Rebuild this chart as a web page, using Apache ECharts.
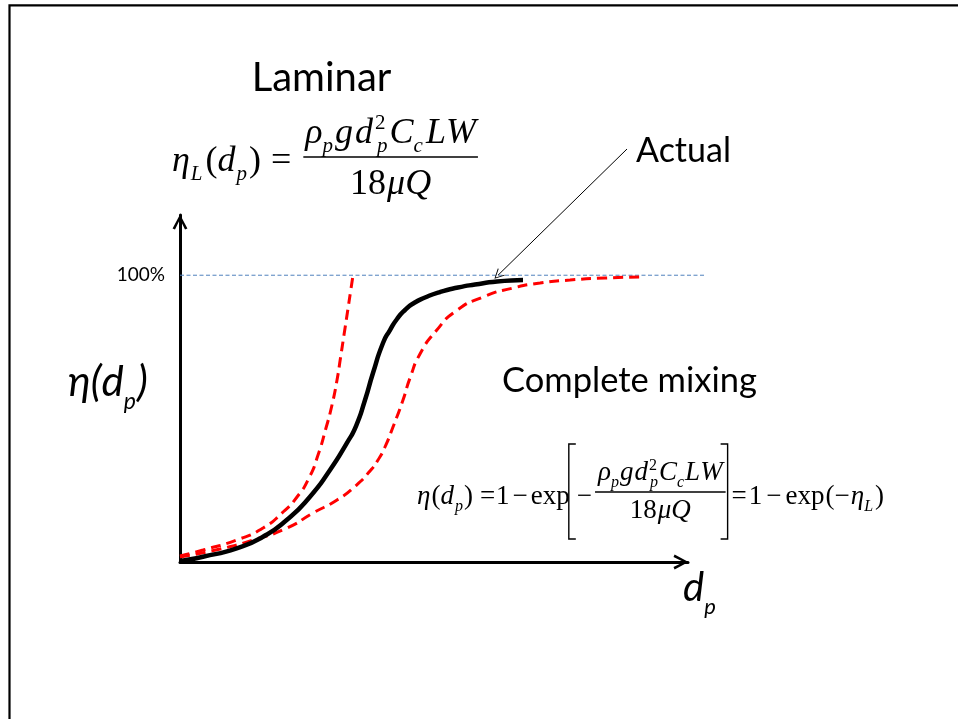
<!DOCTYPE html>
<html><head><meta charset="utf-8">
<script src="https://cdn.jsdelivr.net/npm/echarts@6.0.0/dist/echarts.min.js"></script>
<style>html,body{margin:0;padding:0;background:#fff}#c{width:958px;height:719px}</style>
</head><body><div id="c"></div>
<script>
// ---------- data (x: arbitrary d_p units 0..100, y: efficiency %) ----------
const xMax = 100;
const yMax = 121;
const refXMax = 103.35;
const yTickValue = 100;
const yTickLabel = '100%';
const actualX = [0, 4.53, 11.16, 16.34, 21.0, 25.59, 29.53, 32.81, 34.65, 36.42, 37.99, 39.96, 41.34, 42.72, 44.29, 46.06, 48.23, 51.18, 54.72, 58.07, 62.4, 67.52];
const actualY = [0.35, 1.85, 4.78, 8.82, 14.64, 22.77, 32.08, 41.39, 47.42, 56.49, 65.9, 76.36, 80.89, 84.73, 87.87, 90.31, 92.22, 94.14, 95.71, 96.76, 97.8, 98.33];
const laminarX = [0, 4.53, 11.16, 16.34, 20.28, 23.03, 25.39, 27.17, 28.74, 29.92, 30.91, 31.59, 32.28, 32.97, 33.56, 34.06];
const laminarY = [2.09, 4.18, 7.67, 11.85, 17.43, 22.66, 29.29, 37.31, 46.72, 54.74, 63.46, 71.13, 79.15, 87.17, 94.14, 100];
const mixingX = [0, 7.87, 14.37, 21.06, 26.18, 30.91, 34.65, 37.4, 38.98, 40.35, 41.93, 43.9, 45.28, 47.24, 50.39, 54.33, 59.65, 65.55, 70.87, 76.77, 83.66, 90.55];
const mixingY = [1.74, 4.53, 7.67, 11.85, 17.08, 21.62, 26.67, 31.73, 35.56, 40.1, 47.07, 56.49, 64.16, 72.52, 80.54, 87.52, 92.4, 95.54, 97.28, 98.33, 99.03, 99.37];
const refLineX = [0, refXMax];
const refLineY = [100, 100];
const actualPointer = [62.6, 100];
const titleLaminar = 'Laminar';
const titleActual = 'Actual';
const titleMixing = 'Complete mixing';

// ---------- helpers ----------
const zip = (xs, ys) => xs.map((x, i) => [x, ys[i]]);
const SERIF = '"Liberation Serif", "Times New Roman", serif';
const SANS = 'Lato, "Noto Sans", sans-serif';
const mctx = document.createElement('canvas').getContext('2d');
function fontStr(size, italic, fam) { return (italic ? 'italic' : 'normal') + ' normal ' + size + 'px ' + fam; }
function tw(text, size, italic, fam) { mctx.font = fontStr(size, italic, fam); return mctx.measureText(text).width; }
const G = [];
const MID = 0.33;
function txt(text, x, y, size, italic, fam, align) {
  G.push({
    type: 'text', x: x, y: y, silent: true, z: 100,
    style: {
      text: text, fill: '#000', fontSize: size, fontFamily: fam, fontStyle: italic ? 'italic' : 'normal',
      textAlign: align || 'left', textVerticalAlign: 'middle', align: align || 'left', verticalAlign: 'middle'
    }
  });
}
// token: [text, size, italic, dy, advance, gapBefore]
function runW(tokens, fam) {
  let x = 0;
  for (const t of tokens) { const [text, size, it, dy = 0, adv = true, gap = 0] = t; x += gap; if (adv) x += tw(text, size, it, fam); }
  return x;
}
function run(tokens, x0, base, fam) {
  let x = x0;
  for (const t of tokens) {
    const [text, size, it, dy = 0, adv = true, gap = 0] = t;
    x += gap;
    txt(text, x, base + dy - MID * size, size, it, fam);
    if (adv) x += tw(text, size, it, fam);
  }
  return x;
}
function hline(x1, x2, y, w) {
  G.push({ type: 'line', silent: true, shape: { x1: x1, y1: y, x2: x2, y2: y }, style: { stroke: '#000', lineWidth: w || 1.2 } });
}
function poly(points, w) {
  G.push({ type: 'polyline', silent: true, shape: { points: points }, style: { stroke: '#000', lineWidth: w || 1.3, fill: null } });
}
function fraction(x0, lineY, numTokens, denTokens, numBase, denBase, pad) {
  const nw = runW(numTokens, SERIF), dw = runW(denTokens, SERIF);
  const width = Math.max(nw, dw) + 2 * pad;
  hline(x0, x0 + width, lineY, 1.3);
  run(numTokens, x0 + (width - nw) / 2, numBase, SERIF);
  run(denTokens, x0 + (width - dw) / 2, denBase, SERIF);
  return x0 + width;
}

// slide border
G.push({ type: 'rect', silent: true, shape: { x: 9.5, y: 5.3, width: 1400, height: 1200 }, style: { fill: null, stroke: '#000', lineWidth: 2.2 } });

// titles
txt(titleLaminar, 321.5, 78, 40, false, SANS, 'center');
txt(titleActual, 683.5, 151, 34, false, SANS, 'center');
txt(titleMixing, 629.5, 381, 34.5, false, SANS, 'center');

// axis titles
run([['η(d', 42, true], ['p', 23, true, 13], [')', 42, true, 0, true, 1]], 68, 396, SANS);
run([['d', 40, true], ['p', 22, true, 13]], 683, 601, SANS);

// ---- formula 1 (laminar) ----
(function () {
  const S = 36, s = 21, B = 173;
  let x = run([['η', S, true], ['L', s, true, 8, true, 1], ['(', S, false, 0, true, 3], ['d', S, true], ['p', s, true, 8, true, 1], [')', S, false, 0, true, 2], ['=', S, false, 0, true, 10]], 172, B, SERIF);
  const num = [['ρ', S, true], ['p', s, true, 8], ['g', S, true, 0, true, 2], ['d', S, true, 0, true, 2], ['2', s, false, -15, false, 2], ['p', s, true, 8, true, 2], ['C', S, true, 0, true, 2], ['c', s, true, 8], ['L', S, true, 0, true, 3], ['W', S, true]];
  const den = [['18', S, false], ['μ', S, true, 0, true, 1], ['Q', S, true]];
  fraction(x + 12, 157, num, den, 145, 196, 2);
})();

// ---- formula 2 (complete mixing) ----
(function () {
  const S = 27, s = 16, B = 506;
  let x = run([['η', S, true], ['(', S, false, 0, true, 1], ['d', S, true], ['p', s, true, 6, true, 1], [')', S, false, 0, true, 1], ['=', S, false, 0, true, 7], ['1', S, false, 0, true, 1], ['−', S, false, 0, true, 3], ['exp', S, false, 0, true, 3]], 417, B, SERIF);
  const bx = x - 1;
  poly([[bx + 7, 444], [bx, 444], [bx, 539], [bx + 7, 539]], 1.4);
  x = run([['−', S, false, 0, true, 0]], bx + 8, B, SERIF);
  const num = [['ρ', S, true], ['p', s, true, 6], ['g', S, true, 0, true, 1], ['d', S, true, 0, true, 1], ['2', s, false, -11, false, 1], ['p', s, true, 6, true, 1], ['C', S, true, 0, true, 1], ['c', s, true, 6], ['L', S, true, 0, true, 1], ['W', S, true]];
  const den = [['18', S, false], ['μ', S, true, 0, true, 1], ['Q', S, true]];
  x = fraction(x + 3, 492, num, den, 482, 520, 3);
  const cx = x + 2;
  poly([[cx - 7, 444], [cx, 444], [cx, 539], [cx - 7, 539]], 1.4);
  run([['=', S, false, 0, true, 0], ['1', S, false, 0, true, 2], ['−', S, false, 0, true, 4], ['exp', S, false, 0, true, 4], ['(', S, false, 0, true, 1], ['−', S, false], ['η', S, true, 0, true, 1], ['L', s, true, 6], [')', S, false, 0, true, 2]], cx + 4, B, SERIF);
})();

// ---------- chart ----------
const chevron = 'path://M0,15 L8,0 L16,15 L13.4,16.2 L8,5.2 L2.6,16.2 Z';
const thinChevron = 'path://M0,10 L5,0 L10,10 L9.1,10.45 L5,1.9 L0.9,10.45 Z';
const axisLine = {
  show: true,
  lineStyle: { color: '#000', width: 3 },
  symbol: ['none', chevron],
  symbolSize: [16, 15],
  symbolOffset: [0, -7]
};
const hidden = { show: false };
const curveBase = { type: 'line', symbol: 'none', smooth: 0.6, clip: false, silent: true };
const chart = echarts.init(document.getElementById('c'), null, { renderer: 'canvas' });
chart.setOption({
  animation: false,
  backgroundColor: '#fff',
  grid: [
    { left: 180, top: 215, width: 508, height: 347, containLabel: false },
    { left: 180, top: 215, width: 525, height: 347, containLabel: false }
  ],
  xAxis: [
    { type: 'value', min: 0, max: xMax, gridIndex: 0, axisLine: axisLine, axisTick: hidden, axisLabel: hidden, splitLine: hidden },
    { type: 'value', min: 0, max: refXMax, gridIndex: 1, show: false }
  ],
  yAxis: [
    {
      type: 'value', min: 0, max: yMax, interval: yTickValue, gridIndex: 0,
      axisLine: axisLine, axisTick: hidden, splitLine: hidden,
      axisLabel: {
        formatter: v => (v === yTickValue ? yTickLabel : ''),
        color: '#000', fontSize: 19, fontFamily: SANS, margin: 15, showMaxLabel: false
      }
    },
    { type: 'value', min: 0, max: yMax, gridIndex: 1, show: false }
  ],
  series: [
    Object.assign({}, curveBase, {
      name: 'ref', data: zip(refLineX, refLineY), xAxisIndex: 1, yAxisIndex: 1, smooth: false, z: 1,
      lineStyle: { color: '#4f81bd', width: 1, type: [4, 2.5] }
    }),
    Object.assign({}, curveBase, {
      name: 'Laminar', data: zip(laminarX, laminarY), z: 2,
      lineStyle: { color: '#ff0000', width: 3, type: [10, 6] }
    }),
    Object.assign({}, curveBase, {
      name: 'Complete mixing', data: zip(mixingX, mixingY), z: 2,
      lineStyle: { color: '#ff0000', width: 3, type: [10, 6] }
    }),
    Object.assign({}, curveBase, {
      name: 'Actual', data: zip(actualX, actualY), z: 3,
      lineStyle: { color: '#000', width: 4.5 },
      markLine: {
        silent: true, animation: false,
        symbol: [thinChevron, 'none'], symbolSize: [10, 10],
        label: { show: false },
        lineStyle: { color: '#000', width: 1, type: 'solid' },
        emphasis: { disabled: true },
        data: [[{ coord: actualPointer }, { x: 627, y: 149 }]]
      }
    })
  ],
  graphic: { elements: G }
});
</script></body></html>
